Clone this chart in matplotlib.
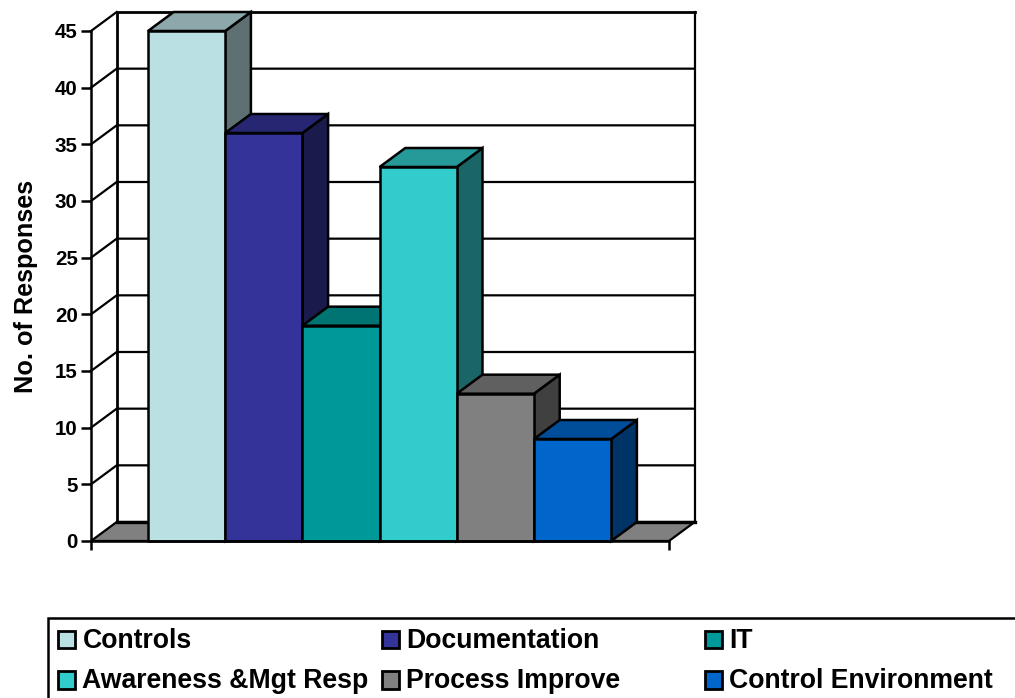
import matplotlib
matplotlib.use("Agg")
import matplotlib.pyplot as plt
from matplotlib.patches import Polygon, Rectangle
from matplotlib.colors import to_rgb

categories = ["Controls", "Documentation", "IT", "Awareness &Mgt Resp", "Process Improve", "Control Environment"]
values = [45, 36, 19, 33, 13, 9]
colors = ["#BBE0E3", "#333399", "#009999", "#33CCCC", "#808080", "#0066CC"]
y_ticks = [0, 5, 10, 15, 20, 25, 30, 35, 40, 45]

plt.rcParams['font.family'] = ['Liberation Sans', 'DejaVu Sans']
plt.rcParams['font.weight'] = 'bold'
W, H = 1015, 698
fig = plt.figure(figsize=(W / 100, H / 100), dpi=100)
L, R, T, B = 91, 669, 31, 541
ax = fig.add_axes([L / W, 1 - B / H, (R - L) / W, (B - T) / H])

px = 77.2            # pixels per bar width
xmin, xmax = 0, (R - L) / px
ymin, ymax = 0, 45
ax.set_xlim(xmin, xmax)
ax.set_ylim(ymin, ymax)
dx = 25.7 / px
dy = 19.0 / ((B - T) / 45)
start = (148 - L) / px
LW = 1.8


def poly(pts, fc, z=3, lw=LW):
    ax.add_patch(Polygon(pts, closed=True, facecolor=fc, edgecolor='black', lw=lw,
                         joinstyle='miter', clip_on=False, zorder=z))


def line(xs, ys, lw=LW, z=2):
    ax.plot(xs, ys, color='black', lw=lw, clip_on=False, zorder=z, solid_capstyle='projecting')


# walls and grid
for t in y_ticks[1:-1]:
    line([xmin, xmin + dx, xmax + dx], [t, t + dy, t + dy], lw=1.6)
line([xmin, xmin + dx], [45, 45 + dy], lw=1.6)
line([xmin + dx, xmin + dx, xmax + dx], [dy, 45 + dy, 45 + dy], lw=2.0)
line([xmax + dx, xmax + dx], [dy, 45 + dy], lw=1.6)
poly([(xmin, 0), (xmin + dx, dy), (xmax + dx, dy), (xmax, 0)], '#808080', z=2.5, lw=1.6)
line([xmin + dx, xmax + dx], [dy, dy], lw=2.4, z=2.6)


def shade(c, f):
    return tuple(v * f for v in to_rgb(c))


# bars
for i, (v, c) in enumerate(zip(values, colors)):
    x0 = start + i
    x1 = x0 + 1
    z = 3 + i * 0.1
    poly([(x1, 0), (x1 + dx, dy), (x1 + dx, v + dy), (x1, v)], shade(c, 0.5), z=z)
    poly([(x0, v), (x0 + dx, v + dy), (x1 + dx, v + dy), (x1, v)], shade(c, 0.75), z=z)
    ax.bar(x0, v, width=1, align='edge', color=c, edgecolor='black', lw=LW, zorder=z + 0.01, clip_on=False)

# axes furniture
for s in ['top', 'right']:
    ax.spines[s].set_visible(False)
for s in ['left', 'bottom']:
    ax.spines[s].set_linewidth(1.8)
    ax.spines[s].set_zorder(6)
ax.patch.set_alpha(0)
ax.set_yticks(y_ticks)
ax.set_xticks([xmin, xmax])
ax.set_xticklabels([])
ax.tick_params(axis='y', length=7, width=1.8, labelsize=14.8, pad=2.5)
ax.tick_params(axis='x', length=6.5, width=1.8)
ax.set_ylabel("No. of Responses", fontsize=18.2, fontweight='bold', labelpad=12.5)

# legend box (runs past the right and bottom edges of the figure)
lg = fig.add_axes([0, 0, 1, 1])
lg.set_xlim(0, W)
lg.set_ylim(H, 0)
lg.axis('off')
lg.patch.set_alpha(0)
lg.add_patch(Rectangle((48.5, 618), 1100, 200, facecolor='white', edgecolor='black', lw=1.8))
col_x = [58, 382, 705]
row_y = [639.5, 680]
for i, (name, c) in enumerate(zip(categories, colors)):
    cx, cy = col_x[i % 3], row_y[i // 3]
    lg.add_patch(Rectangle((cx, cy - 9), 17.5, 17.5, facecolor=c, edgecolor='black', lw=2))
    lg.text(cx + 24.5, cy + 1, name, fontsize=19.2, fontweight='bold', va='center', ha='left', color='black')

fig.savefig("out.png", dpi=100)
